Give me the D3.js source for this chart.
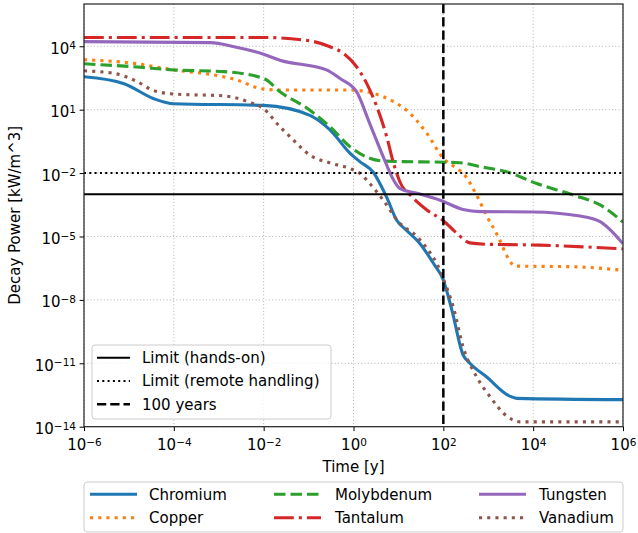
<!DOCTYPE html>
<html><head><meta charset="utf-8">
<script src="https://cdn.jsdelivr.net/npm/d3@7"></script>
<style>body{margin:0;background:#fff} text{font-family:"DejaVu Sans",sans-serif;fill:#000}</style>
</head><body><svg id="c" width="638" height="533"></svg>
<script>
// ---- data (time in years, decay power in kW/m^3) ----
const chromiumT = [1e-6,7.8e-6,3.6e-5,1e-4,1e-2,0.107,0.30,0.83,1.38,2.75,5.5,9.1,15,30,60,100,155,275,390,910,3000,4300,1e6];
const chromiumP = [360,170,33,19,16,5.4,1.1,8.9e-2,3.5e-2,1.1e-2,7.1e-4,6.0e-5,2.0e-5,4.7e-6,5.4e-7,8.7e-8,3.3e-9,2.5e-11,1.0e-11,2.3e-12,2.8e-13,2.2e-13,1.9e-13];

const copperT = [1e-6,1.3e-5,1e-4,7.8e-4,2.6e-3,8.5e-3,2.3e-2,0.83,2.75,7.8,15,43,100,200,275,550,910,1660,2800,3900,7.8e4,1e6];
const copperP = [2300,1550,760,440,250,100,85,85,59,24,9.5,0.76,5.0e-2,1.66e-2,9.8e-3,9.1e-4,1.0e-4,9.8e-6,9.1e-7,4.0e-7,3.7e-7,2.5e-7];

const molybdenumT = [1e-6,1.3e-5,1e-4,1.3e-3,1.0e-2,2.3e-2,0.107,0.30,0.83,2.3,4.6,234,660,2570,1.2e4,7.8e4,3.1e5,1e6];
const molybdenumP = [1480,1070,760,630,300,71,9.5,1.55,0.178,5.0e-2,3.7e-2,3.1e-2,2.0e-2,1.15e-2,3.2e-3,9.1e-4,3.1e-4,4.8e-5];

const tantalumT = [1e-6,1e-2,0.107,0.30,0.59,1.17,1.95,3.3,5.5,7.8,10.7,20,43,100,200,390,910,1.4e4,1e6];
const tantalumP = [2.6e4,2.6e4,1.8e4,9.5e3,4.7e3,1070,180,14,0.52,2.9e-2,4.0e-3,7.6e-4,1.8e-4,5.6e-5,1.4e-5,5.0e-6,4.3e-6,3.9e-6,2.6e-6];

const tungstenT = [1e-6,6.6e-4,2.2e-3,1e-2,2.3e-2,0.25,0.50,1.17,2.3,4.6,7.8,10.7,26,85,275,660,1e4,1.1e5,3.1e5,1e6];
const tungstenP = [1.66e4,1.48e4,9.5e3,4.2e3,2.2e3,760,300,71,2.2,5.9e-2,4.7e-3,1.9e-3,1.1e-3,5.2e-4,1.9e-4,1.5e-4,1.45e-4,9.3e-5,5.0e-5,4.5e-6];

const vanadiumT = [1e-6,4.7e-6,1.55e-5,3.3e-5,1e-4,1.3e-3,4.4e-3,1.0e-2,2.3e-2,4.2e-2,0.107,0.32,0.83,1.38,2.3,4.6,10,26,43,71,117,166,275,550,1100,2570,5100,1e6];
const vanadiumP = [690,520,210,85,55,45,24,11,1.55,0.44,7.1e-2,2.9e-2,1.66e-2,9.8e-3,3.2e-3,5.2e-4,5.0e-5,9.8e-6,2.75e-6,5.4e-7,4.2e-8,4.7e-9,6.0e-11,2.3e-12,2.6e-13,3.2e-14,1.7e-14,1.7e-14];

const seriesNames = ["Chromium","Copper","Molybdenum","Tantalum","Tungsten","Vanadium"];
const limitHandsOn = 1e-3;
const limitRemote = 1e-2;
const markerYears = 100;
const xTickExps = [-6,-4,-2,0,2,4,6];
const yTickExps = [-14,-11,-8,-5,-2,1,4];
const xDomain = [1e-6,1e6];
const yDomain = [1e-14,1e6];

// ---- build ----
const series = [
  {name:"Chromium",   t:chromiumT,   p:chromiumP,   color:"#1f77b4", dash:null},
  {name:"Copper",     t:copperT,     p:copperP,     color:"#ff7f0e", dash:"3.1,5.1"},
  {name:"Molybdenum", t:molybdenumT, p:molybdenumP, color:"#2ca02c", dash:"11.5,5"},
  {name:"Tantalum",   t:tantalumT,   p:tantalumP,   color:"#d62728", dash:"19.8,5,3.1,5"},
  {name:"Tungsten",   t:tungstenT,   p:tungstenP,   color:"#9467bd", dash:null},
  {name:"Vanadium",   t:vanadiumT,   p:vanadiumP,   color:"#8c564b", dash:"3.1,5.1"}
];

const L=84, R=623, T=4, B=426.7;
const svg = d3.select("#c");
const x = d3.scaleLog().domain(xDomain).range([L,R]);
const y = d3.scaleLog().domain(yDomain).range([B,T]);

svg.append("defs").append("clipPath").attr("id","clip")
  .append("rect").attr("x",L).attr("y",T).attr("width",R-L).attr("height",B-T);

// grid
const grid = svg.append("g");
grid.selectAll(".gx").data(xTickExps).enter().append("line")
  .attr("x1",d=>x(Math.pow(10,d))).attr("x2",d=>x(Math.pow(10,d)))
  .attr("y1",T).attr("y2",B).attr("stroke","#b0b0b0").attr("stroke-width",1).attr("stroke-dasharray","1,2.3");
grid.selectAll(".gy").data(yTickExps).enter().append("line")
  .attr("y1",d=>y(Math.pow(10,d))).attr("y2",d=>y(Math.pow(10,d)))
  .attr("x1",L).attr("x2",R).attr("stroke","#b0b0b0").attr("stroke-width",1).attr("stroke-dasharray","1,2.3");

// series
const line = d3.line().x(d=>x(d[0])).y(d=>y(d[1])).curve(d3.curveMonotoneX);
const plot = svg.append("g").attr("clip-path","url(#clip)");
series.forEach(s=>{
  const pts = s.t.map((t,i)=>[t,s.p[i]]);
  plot.append("path").datum(pts).attr("d",line).attr("fill","none")
    .attr("stroke",s.color).attr("stroke-width",3.1)
    .attr("stroke-dasharray",s.dash).attr("stroke-linecap","butt").attr("stroke-linejoin","round");
});

// limits
plot.append("line").attr("x1",L).attr("x2",R).attr("y1",y(limitHandsOn)).attr("y2",y(limitHandsOn))
  .attr("stroke","#000").attr("stroke-width",2);
plot.append("line").attr("x1",L).attr("x2",R).attr("y1",y(limitRemote)).attr("y2",y(limitRemote))
  .attr("stroke","#000").attr("stroke-width",2).attr("stroke-dasharray","2,3.3");
plot.append("line").attr("x1",x(markerYears)).attr("x2",x(markerYears)).attr("y1",T).attr("y2",B)
  .attr("stroke","#000").attr("stroke-width",2.5).attr("stroke-dasharray","9.25,4");

// axes
function supLabel(sel, exp){
  sel.text(null);
  sel.append("tspan").text("10");
  sel.append("tspan").attr("dy","-0.42em").attr("font-size","10.5px")
    .text(exp<0 ? "\u2212"+(-exp) : String(exp));
}
const xAxis = svg.append("g").attr("transform",`translate(0,${B})`)
  .call(d3.axisBottom(x).tickValues(xTickExps.map(e=>Math.pow(10,e))).tickSize(4.4).tickPadding(5).tickFormat(""));
xAxis.select(".domain").remove();
xAxis.selectAll(".tick line").attr("stroke","#000").attr("stroke-width",1);
xAxis.selectAll(".tick").each(function(d,i){
  const t = d3.select(this).append("text").attr("y",23.8).attr("text-anchor","middle")
    .attr("font-size","15px").attr("fill","#000");
  supLabel(t, xTickExps[i]);
});
const yAxis = svg.append("g").attr("transform",`translate(${L},0)`)
  .call(d3.axisLeft(y).tickValues(yTickExps.map(e=>Math.pow(10,e))).tickSize(4.4).tickFormat(""));
yAxis.select(".domain").remove();
yAxis.selectAll(".tick line").attr("stroke","#000").attr("stroke-width",1);
yAxis.selectAll(".tick").each(function(d,i){
  const t = d3.select(this).append("text").attr("x",-8).attr("y",7).attr("text-anchor","end")
    .attr("font-size","15px").attr("fill","#000");
  supLabel(t, yTickExps[i]);
});

// frame
svg.append("rect").attr("x",L).attr("y",T).attr("width",R-L).attr("height",B-T)
  .attr("fill","none").attr("stroke","#222").attr("stroke-width",1.2);

// axis labels
svg.append("text").attr("x",(L+R)/2).attr("y",472).attr("text-anchor","middle").attr("font-size","15px").text("Time [y]");
svg.append("text").attr("transform",`translate(20,${(T+B)/2}) rotate(-90)`).attr("text-anchor","middle")
  .attr("font-size","15px").text("Decay Power [kW/m^3]");

// legend 1 (limits)
const lg1 = svg.append("g");
lg1.append("rect").attr("x",92).attr("y",345).attr("width",239).attr("height",74).attr("rx",3)
  .attr("fill","#fff").attr("fill-opacity",0.8).attr("stroke","#cccccc").attr("stroke-width",1);
const lim = [
  {label:"Limit (hands-on)", dash:null, w:2},
  {label:"Limit (remote handling)", dash:"2,3.3", w:2},
  {label:"100 years", dash:"9.25,4", w:2.5}
];
lim.forEach((e,i)=>{
  const cy = 357.7 + i*23.3;
  lg1.append("line").attr("x1",97).attr("x2",130).attr("y1",cy).attr("y2",cy)
    .attr("stroke","#000").attr("stroke-width",e.w).attr("stroke-dasharray",e.dash);
  lg1.append("text").attr("x",142).attr("y",cy+5.3).attr("font-size","15px").text(e.label);
});

// legend 2 (materials)
const lg2 = svg.append("g");
lg2.append("rect").attr("x",84).attr("y",482).attr("width",539).attr("height",50).attr("rx",3)
  .attr("fill","#fff").attr("fill-opacity",0.8).attr("stroke","#cccccc").attr("stroke-width",1);
const colX = [[90,137,149],[274,321,335],[479,526,539]];
series.forEach((s,i)=>{
  const col = Math.floor(i/2), row = i%2;
  const cy = 494.3 + row*23.4;
  lg2.append("line").attr("x1",colX[col][0]).attr("x2",colX[col][1]).attr("y1",cy).attr("y2",cy)
    .attr("stroke",s.color).attr("stroke-width",3.1).attr("stroke-dasharray",s.dash);
  lg2.append("text").attr("x",colX[col][2]).attr("y",cy+5.3).attr("font-size","15px").text(seriesNames[i]);
});
</script></body></html>
